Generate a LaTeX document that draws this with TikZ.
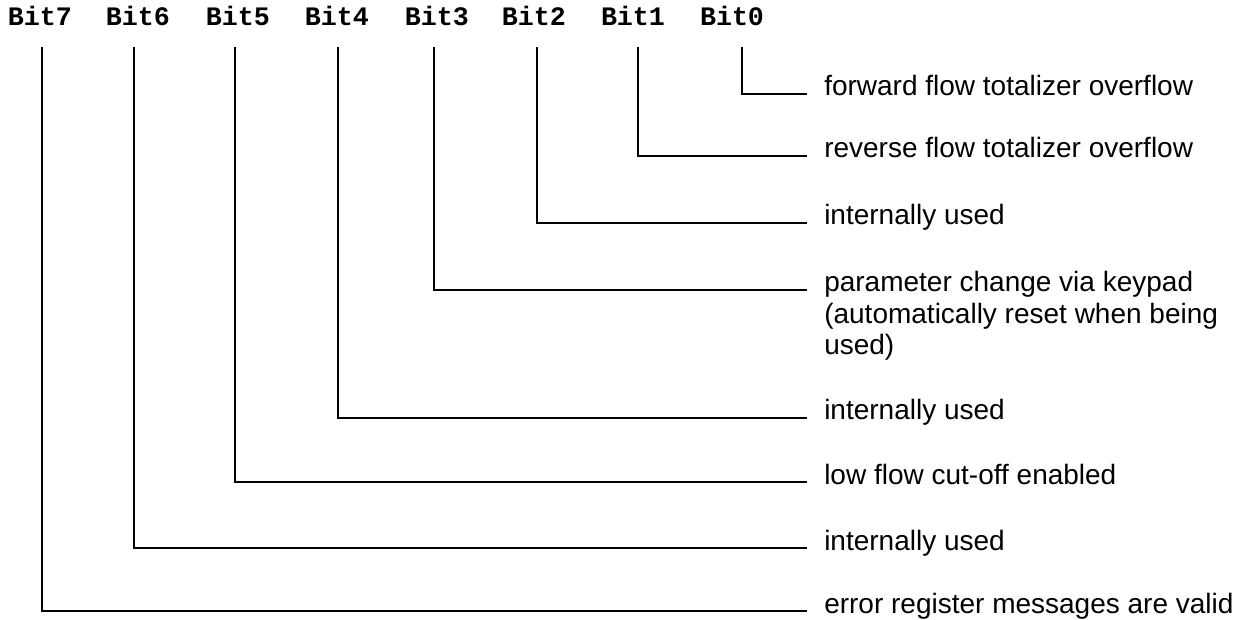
\documentclass[tikz,border=0pt]{standalone}
\usepackage{fontspec}
\setmainfont{Liberation Sans}
\newfontfamily\bitfont{Liberation Mono}
\usetikzlibrary{positioning}

\begin{document}
\begin{tikzpicture}[x=0.75pt,y=-0.75pt,
    bitlabel/.style={anchor=base, inner sep=0pt, font=\bitfont\bfseries\fontsize{20}{24}\selectfont},
    desc/.style={anchor=base west, inner sep=0pt, align=left, font=\fontsize{21}{23.6}\selectfont},
    wire/.style={line width=1.5pt}]

  \useasboundingbox (0,0) rectangle (1247,620);

  % register bits along the top
  \node[bitlabel] (l7) at (40,26)  {Bit7};
  \node[bitlabel] (l6) at (138,26) {Bit6};
  \node[bitlabel] (l5) at (238,26) {Bit5};
  \node[bitlabel] (l4) at (337,26) {Bit4};
  \node[bitlabel] (l3) at (437,26) {Bit3};
  \node[bitlabel] (l2) at (534,26) {Bit2};
  \node[bitlabel] (l1) at (633,26) {Bit1};
  \node[bitlabel] (l0) at (732,26) {Bit0};

  % start of each bit line
  \coordinate (b7) at (42,47);
  \coordinate (b6) at (134,47);
  \coordinate (b5) at (235,47);
  \coordinate (b4) at (338,47);
  \coordinate (b3) at (434,47);
  \coordinate (b2) at (537,47);
  \coordinate (b1) at (638,47);
  \coordinate (b0) at (742,47);

  % end of each bit line
  \coordinate (e0) at (807,94);
  \coordinate (e1) at (807,156);
  \coordinate (e2) at (807,223);
  \coordinate (e3) at (807,290);
  \coordinate (e4) at (807,418);
  \coordinate (e5) at (807,482);
  \coordinate (e6) at (807,548);
  \coordinate (e7) at (807,611);

  % meaning of each bit
  \node[desc] (d0) at ([xshift=12.75pt,yshift=-1.5pt]e0) {forward flow totalizer overflow};
  \node[desc] (d1) at ([xshift=12.75pt,yshift=-1.5pt]e1) {reverse flow totalizer overflow};
  \node[desc] (d2) at ([xshift=12.75pt,yshift=-1.5pt]e2) {internally used};
  % three lines: base sits on the last one
  \node[desc] (d3) at ([xshift=12.75pt,yshift=-48.7pt]e3) {parameter change via keypad\\(automatically reset when being\\used)};
  \node[desc] (d4) at ([xshift=12.75pt,yshift=-1.5pt]e4) {internally used};
  \node[desc] (d5) at ([xshift=12.75pt,yshift=-1.5pt]e5) {low flow cut-off enabled};
  \node[desc] (d6) at ([xshift=12.75pt,yshift=-1.5pt]e6) {internally used};
  \node[desc] (d7) at ([xshift=12.75pt,yshift=-1.5pt]e7) {error register messages are valid};

  \foreach \i in {0,...,7}
    \draw[wire] (b\i) |- (e\i);

\end{tikzpicture}
\end{document}
